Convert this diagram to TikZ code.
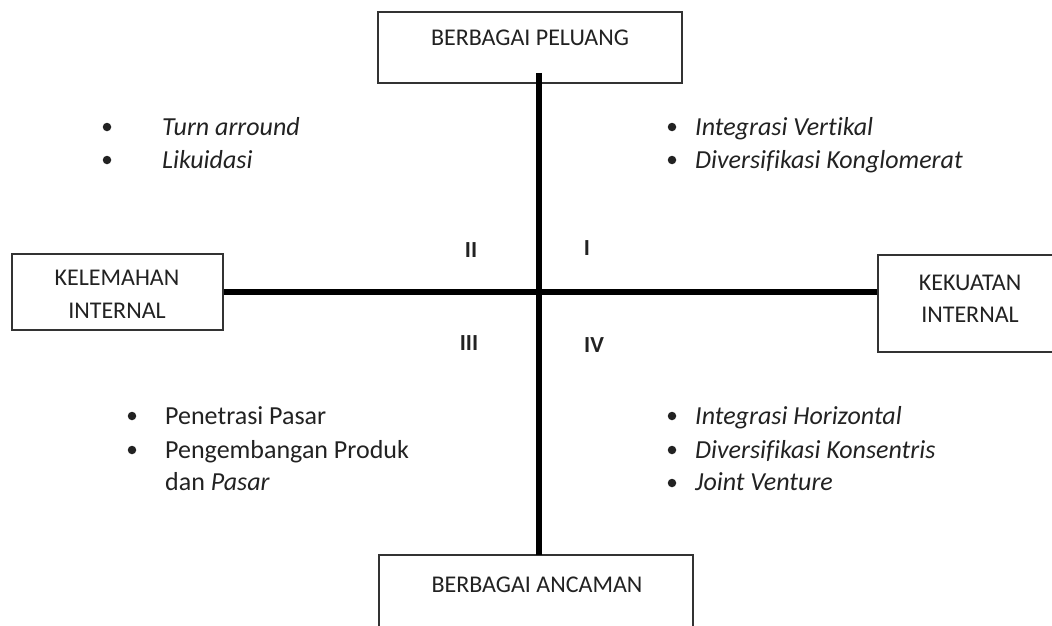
\documentclass[tikz,border=0pt]{standalone}
\usepackage{fontspec}
\setmainfont{Carlito}[Ligatures={NoCommon},RawFeature={-liga;-clig;-dlig}]
\definecolor{ink}{HTML}{222222}
\definecolor{frame}{HTML}{333333}
\begin{document}
\begin{tikzpicture}[x=1pt,y=-1pt,
  box/.style={draw=frame,line width=1.6pt,fill=white,inner sep=0pt},
  boxtxt/.style={anchor=base,text=ink,font=\fontsize{24}{28}\selectfont,inner sep=0pt},
  item/.style={anchor=base west,text=ink,font=\fontsize{26}{30}\selectfont\itshape,inner sep=0pt},
  itemup/.style={anchor=base west,text=ink,font=\fontsize{26}{30}\selectfont,inner sep=0pt},
  num/.style={anchor=base,text=ink,font=\fontsize{23}{27}\selectfont\bfseries,inner sep=0pt},
  dot/.style={circle,fill=ink,minimum size=8.5pt,inner sep=0pt},
  axis/.style={line width=6.5pt,draw=black}]
\useasboundingbox (0,0) rectangle (1052,626);
\clip (0,0) rectangle (1052,626);
% boxes
\node[box,minimum width=304pt,minimum height=71pt] (top) at (530,47.5) {};
\node[box,minimum width=211pt,minimum height=76pt] (left) at (117.5,292) {};
\node[box,minimum width=184pt,minimum height=97pt] (right) at (970,303.5) {};
\node[box,minimum width=314pt,minimum height=85pt] (bottom) at (536,597.5) {};
% axes
\coordinate (vtop) at (539,73);
\coordinate (vbot) at (539,555);
\draw[axis] (vtop) -- (vbot);
\draw[axis] (left.east |- 0,292) -- (right.west |- 0,292);
% box labels
\node[boxtxt] (tTop) at (530,46) {BERBAGAI PELUANG};
\node[boxtxt] (tL1) at (117,285) {KELEMAHAN};
\node[boxtxt] (tL2) at (117,318) {INTERNAL};
\node[boxtxt] (tR1) at (970,290) {KEKUATAN};
\node[boxtxt] (tR2) at (970,322) {INTERNAL};
\node[boxtxt] (tBot) at (537,592) {BERBAGAI ANCAMAN};
% quadrant numerals
\node[num] (nII) at (471,257) {II};
\node[num] (nI) at (587,255) {I};
\node[num] (nIII) at (469,350) {III};
\node[num] (nIV) at (594,352) {IV};
% top-left
\node[dot] (b1) at (107,127) {};
\node[item] (i1) at (162,135) {Turn arround};
\node[dot] (b2) at (107,160) {};
\node[item] (i2) at (162,168) {Likuidasi};
% top-right
\node[dot] (b3) at (672,127) {};
\node[item] (i3) at (695,135) {Integrasi Vertikal};
\node[dot] (b4) at (672,160) {};
\node[item] (i4) at (695,168) {Diversifikasi Konglomerat};
% bottom-left
\node[dot] (b5) at (132,416) {};
\node[itemup] (i5) at (165,424) {Penetrasi Pasar};
\node[dot] (b6) at (132,450) {};
\node[itemup] (i6) at (165,458) {Pengembangan Produk};
\node[itemup] (i7) at (165,490) {dan \textit{Pasar}};
% bottom-right
\node[dot] (b7) at (672,416) {};
\node[item] (i8) at (695,424) {Integrasi Horizontal};
\node[dot] (b8) at (672,450) {};
\node[item] (i9) at (695,458) {Diversifikasi Konsentris};
\node[dot] (b9) at (672,483) {};
\node[item] (i10) at (695,490) {Joint Venture};
\end{tikzpicture}
\end{document}
